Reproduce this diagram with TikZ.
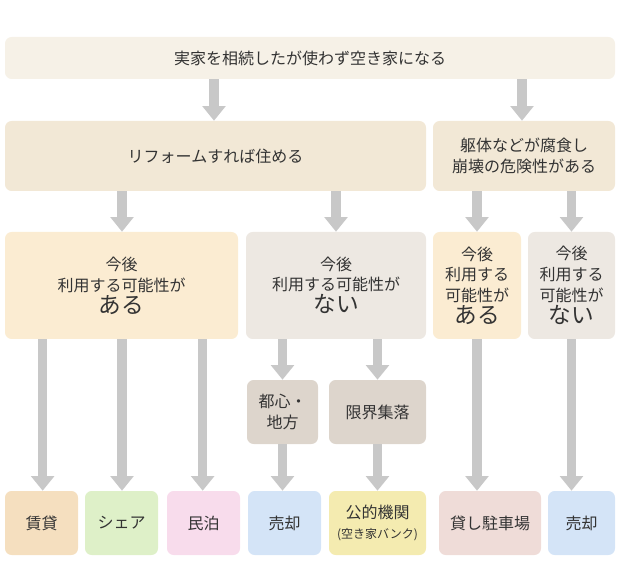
\documentclass[tikz,border=0pt]{standalone}
\usepackage{fontspec}
\setmainfont{Noto Sans CJK JP}
\usetikzlibrary{arrows.meta}
\definecolor{ctop}{HTML}{F6F1E7}
\definecolor{crow}{HTML}{F2E8D6}
\definecolor{cyes}{HTML}{FBECD2}
\definecolor{cno}{HTML}{EDE8E2}
\definecolor{cmid}{HTML}{DDD5CC}
\definecolor{cchin}{HTML}{F5DFBF}
\definecolor{cshare}{HTML}{DEF0C8}
\definecolor{cmin}{HTML}{F8DCEC}
\definecolor{csell}{HTML}{D4E4F7}
\definecolor{cpub}{HTML}{F4EBB0}
\definecolor{cpark}{HTML}{EFDCD8}
\definecolor{carr}{HTML}{C8C8C8}
\definecolor{ctxt}{HTML}{333333}
\begin{document}
\begin{tikzpicture}[x=1pt,y=-1pt,
  bx/.style={rounded corners=5pt,inner sep=0pt,text=ctxt,align=center,font=\fontsize{12}{15.5}\selectfont},
  ar/.style={draw=carr,line width=7pt,-{Triangle[width=17pt,length=11pt]}}]
\useasboundingbox (0,0) rectangle (465,435);
\newcommand{\bxat}[5]{\node[bx,fill=#5,minimum width={(#3-#1)*0.75pt},minimum height={(#4-#2)*0.75pt}] at ({(#1+#3)*0.375},{(#2+#4)*0.375})}
\newcommand{\bigw}[1]{{\fontsize{17}{21}\selectfont #1}}
\bxat{5}{37}{615}{79}{ctop} (top) {実家を相続したが使わず空き家になる};
\bxat{5}{121}{426}{191}{crow} (r1) {リフォームすれば住める};
\bxat{433}{121}{615}{191}{crow} (r2) {躯体などが腐食し\\崩壊の危険性がある};
\bxat{5}{232}{238}{339}{cyes} (a) {今後\\利用する可能性が\\[1pt]\bigw{ある}};
\bxat{246}{232}{426}{339}{cno} (b) {今後\\利用する可能性が\\[1pt]\bigw{ない}};
\bxat{433}{232}{521}{339}{cyes} (c) {今後\\利用する\\可能性が\\[1pt]\bigw{ある}};
\bxat{528}{232}{615}{339}{cno} (d) {今後\\利用する\\可能性が\\[1pt]\bigw{ない}};
\bxat{247}{380}{318}{444}{cmid} (m1) {都心・\\地方};
\bxat{329}{380}{426}{444}{cmid} (m2) {限界集落};
\bxat{5}{491}{78}{555}{cchin} (o1) {賃貸};
\bxat{85}{491}{158}{555}{cshare} (o2) {シェア};
\bxat{167}{491}{240}{555}{cmin} (o3) {民泊};
\bxat{248}{491}{321}{555}{csell} (o4) {売却};
\bxat{329}{491}{426}{555}{cpub} (o5) {公的機関\\{\fontsize{9}{12}\selectfont (空き家バンク)}};
\bxat{439}{491}{541}{555}{cpark} (o6) {貸し駐車場};
\bxat{548}{491}{615}{555}{csell} (o7) {売却};
\coordinate (x1) at (160.5,0);
\coordinate (x2) at (391.5,0);
\draw[ar] (top.south -| x1) -- (r1.north -| x1);
\draw[ar] (top.south -| x2) -- (r2.north -| x2);
\coordinate (x3) at (91.5,0);
\coordinate (x4) at (252,0);
\draw[ar] (r1.south -| x3) -- (a.north -| x3);
\draw[ar] (r1.south -| x4) -- (b.north -| x4);
\draw[ar] (r2.south -| c) -- (c.north);
\draw[ar] (r2.south -| d) -- (d.north);
\coordinate (x5) at (32,0);
\coordinate (x6) at (91.5,0);
\coordinate (x7) at (152,0);
\draw[ar] (a.south -| x5) -- (o1.north -| x5);
\draw[ar] (a.south -| x6) -- (o2.north -| x6);
\draw[ar] (a.south -| x7) -- (o3.north -| x7);
\draw[ar] (b.south -| m1) -- (m1.north);
\draw[ar] (b.south -| m2) -- (m2.north);
\draw[ar] (m1.south) -- (o4.north -| m1);
\draw[ar] (m2.south) -- (o5.north -| m2);
\draw[ar] (c.south) -- (o6.north -| c);
\draw[ar] (d.south) -- (o7.north -| d);
\end{tikzpicture}
\end{document}
